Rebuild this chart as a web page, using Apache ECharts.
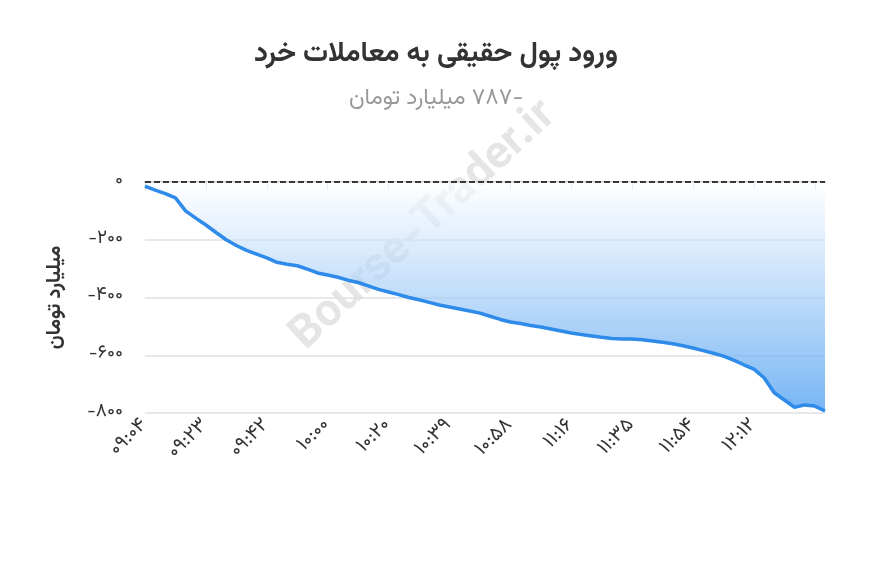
<!DOCTYPE html>
<html>
<head>
<meta charset="utf-8">
<script src="https://cdn.jsdelivr.net/npm/echarts@6/dist/echarts.min.js"></script>
<style>html,body{margin:0;padding:0;background:#fff}#chart{width:872px;height:586px}</style>
</head>
<body>
<div id="chart"></div>
<script>
var tickLabels = ['09:04', '09:23', '09:42', '10:00', '10:20', '10:39', '10:58', '11:16', '11:35', '11:54', '12:12'];
var stepsPerTick = 6;
var values = [
	-14, -28, -40, -55, -100, -125, -149, -175, -200, -220, -237, -250,
	-263, -278, -285, -290, -302, -315, -322, -330, -340, -348, -360, -372,
	-381, -390, -400, -408, -417, -426, -433, -440, -447, -454, -465, -476,
	-485, -490, -497, -502, -509, -516, -523, -528, -533, -538, -542, -544,
	-544, -546, -551, -555, -560, -567, -575, -584, -593, -603, -617, -633,
	-648, -678, -730, -755, -780, -772, -776, -793
];

function fa(s) {
	return String(s).replace(/[0-9]/g, function (d) { return '۰۱۲۳۴۵۶۷۸۹'[d]; });
}

// category slots, tick label on every 6th slot
var categories = values.map(function (v, i) {
	return i % stepsPerTick === 0 && tickLabels[i / stepsPerTick] ? tickLabels[i / stepsPerTick] : '';
});

var chart = echarts.init(document.getElementById('chart'));
var font = 'Vazirmatn, "Noto Sans", "DejaVu Sans", sans-serif';
var sub = { fontFamily: font, fontSize: 23, color: '#999' };

chart.setOption({
	animation: false,
	title: {
		text: 'ورود پول حقیقی به معاملات خرد',
		subtext: '{a|میلیارد تومان}{s| }{b|' + fa('787') + '}{c|-}',
		left: 'center',
		top: 38,
		itemGap: 18,
		textStyle: { fontFamily: font, fontSize: 28, fontWeight: 'bold', color: '#333' },
		subtextStyle: { fontFamily: font, fontSize: 23, color: '#999', rich: { a: sub, s: sub, b: sub, c: sub } }
	},
	graphic: [{
		type: 'text',
		left: 285,
		top: 95,
		rotation: Math.PI / 4.2,
		z: 0,
		style: {
			text: 'Bourse-Trader.ir',
			fontFamily: font,
			fontSize: 46,
			fontWeight: 'bold',
			fill: 'rgba(0,0,0,0.1)'
		}
	}],
	grid: { left: 145, right: 47, top: 182, bottom: 173 },
	xAxis: {
		type: 'category',
		boundaryGap: false,
		data: categories,
		axisLine: { lineStyle: { color: '#ccc', width: 2 } },
		axisTick: { interval: stepsPerTick - 1, length: 8, lineStyle: { color: '#ccc' } },
		axisLabel: {
			interval: stepsPerTick - 1,
			rotate: 45,
			margin: 10,
			fontFamily: font,
			fontSize: 20,
			color: '#333',
			formatter: function (v) { return fa(v); }
		}
	},
	yAxis: {
		type: 'value',
		min: -800,
		max: 0,
		interval: 200,
		name: 'میلیارد تومان',
		nameLocation: 'middle',
		nameRotate: 90,
		nameGap: 78,
		nameTextStyle: { fontFamily: font, fontSize: 20, fontWeight: 'bold', color: '#333' },
		axisLine: { show: false },
		axisTick: { show: false },
		axisLabel: {
			margin: 22,
			fontFamily: font,
			fontSize: 19,
			color: '#333',
			formatter: function (v) { return v < 0 ? '-' + fa(-v) : fa(v); }
		},
		splitLine: { lineStyle: { color: '#e0e0e0', width: 1.5 } }
	},
	series: [{
		type: 'line',
		data: values,
		symbol: 'none',
		lineStyle: { color: '#2f8bea', width: 3.5 },
		areaStyle: {
			color: new echarts.graphic.LinearGradient(0, 0, 0, 1, [
				{ offset: 0, color: 'rgba(255,255,255,0.9)' },
				{ offset: 1, color: '#3d96f0' }
			])
		},
		markLine: {
			silent: true,
			symbol: 'none',
			label: { show: false },
			lineStyle: { color: '#000', type: 'dashed', width: 1.5 },
			data: [{ yAxis: 0 }]
		}
	}]
});
</script>
</body>
</html>
